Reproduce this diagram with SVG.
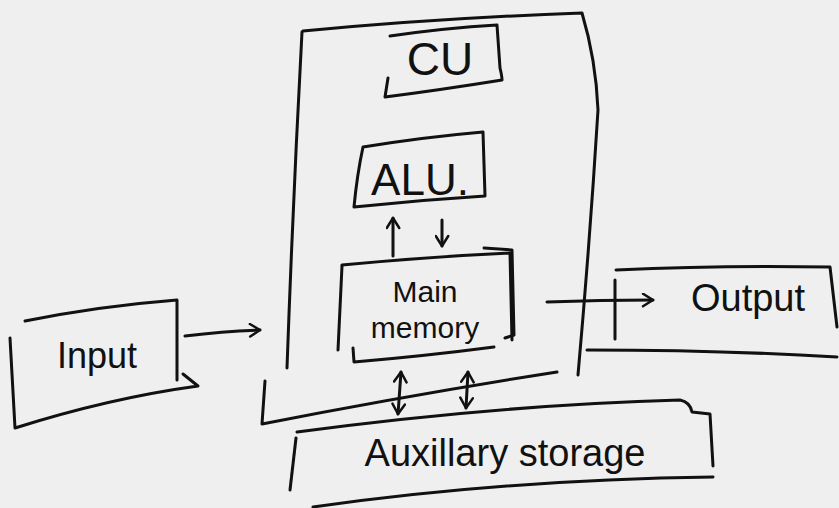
<svg xmlns="http://www.w3.org/2000/svg" width="839" height="508" viewBox="0 0 839 508">
<defs>
<style>
.s{fill:none;stroke:#111;stroke-width:3;stroke-linecap:round;stroke-linejoin:round}
.t{font-family:"Liberation Sans",Arial,sans-serif;fill:#111;text-anchor:middle}
</style>
<marker id="ah" viewBox="0 0 12 12" refX="10" refY="6" markerWidth="15" markerHeight="15" markerUnits="userSpaceOnUse" orient="auto-start-reverse">
<path d="M2,1 L10,6 L2,11" fill="none" stroke="#111" stroke-width="2" stroke-linecap="round" stroke-linejoin="round"/>
</marker>
</defs>
<rect width="839" height="508" fill="#efefef"/>
<g id="cpu">
<path class="s" d="M303,31 Q440,18 582,13 Q596,60 598,110 Q590,240 578,375"/>
<path class="s" d="M302,32 Q293,200 287,368"/>
<path class="s" d="M265,381 L262,424 Q410,395 557,372"/>
</g>
<g id="cu">
<path class="s" d="M390,36 Q445,28 497,25 L500,68 Q502,76 502,80 Q440,90 385,97 L388,78"/>
<text class="t" x="440" y="75" font-size="46">CU</text>
</g>
<g id="alu">
<path class="s" d="M363,147 Q425,137 483,132 L485,196 Q420,200 354,207 Q357,175 363,147"/>
<text class="t" x="420" y="195" font-size="44">ALU.</text>
</g>
<g id="main-memory">
<path class="s" d="M342,265 Q425,257 510,253 L512,340"/>
<path class="s" d="M342,266 Q340,310 338,350"/>
<path class="s" d="M353,348 L354,362 Q425,356 494,347"/>
<path class="s" d="M484,248 L512,250 L514,335 L505,338"/>
<text class="t" x="425" y="302" font-size="30">Main</text>
<text class="t" x="425" y="338" font-size="30">memory</text>
</g>
<g id="input">
<path class="s" d="M25,321 Q100,306 177,300 L177,380"/>
<path class="s" d="M183,374 L198,386 Q110,398 15,428 L10,338"/>
<text class="t" x="97" y="368" font-size="36">Input</text>
</g>
<g id="output">
<path class="s" d="M616,270 Q720,265 830,267 L837,327"/>
<path class="s" d="M615,280 L615,339"/>
<path class="s" d="M587,350 Q720,350 837,357"/>
<text class="t" x="748" y="311" font-size="38">Output</text>
</g>
<g id="auxiliary-storage">
<path class="s" d="M297,432 Q500,405 680,400 Q690,402 692,412 L710,414 L713,466"/>
<path class="s" d="M296,438 L290,490"/>
<path class="s" d="M313,507 Q500,480 713,477"/>
<text class="t" x="505" y="466" font-size="38">Auxillary storage</text>
</g>
<g id="connectors">
<path class="s" d="M185,336 Q225,331 260,330" marker-end="url(#ah)"/>
<path class="s" d="M393,256 L393,218" marker-end="url(#ah)"/>
<path class="s" d="M442,220 L442,246" marker-end="url(#ah)"/>
<path class="s" d="M401,372 L398,414" marker-start="url(#ah)" marker-end="url(#ah)"/>
<path class="s" d="M468,372 L466,408" marker-start="url(#ah)" marker-end="url(#ah)"/>
<path class="s" d="M547,302 Q600,300 653,300" marker-end="url(#ah)"/>
</g>
</svg>
